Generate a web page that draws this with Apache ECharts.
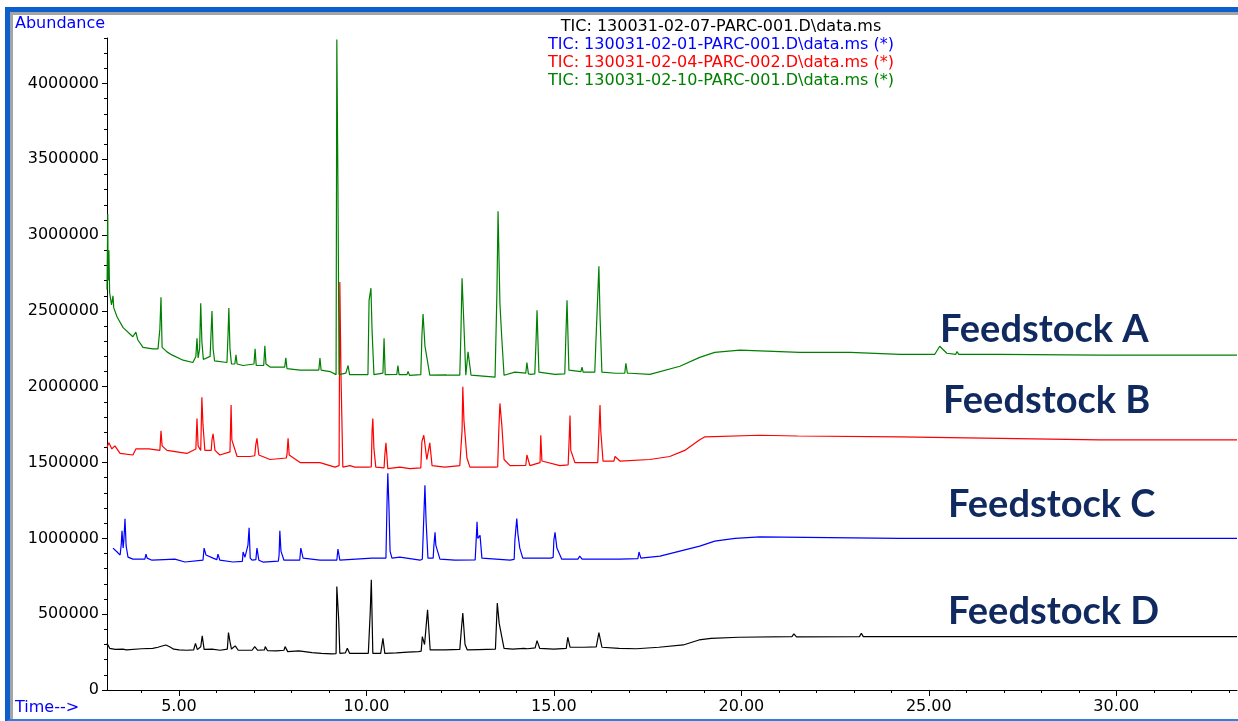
<!DOCTYPE html>
<html>
<head>
<meta charset="utf-8">
<script src="https://cdn.jsdelivr.net/npm/echarts@6/dist/echarts.min.js"></script>
<style>
html,body{margin:0;padding:0;background:#fff;width:1238px;height:721px;overflow:hidden;}
#outer{position:absolute;left:5px;top:7px;width:1300px;height:707px;border-top:5px solid #0c5fcd;border-left:5px solid #0c5fcd;border-bottom:3px solid #2f80e0;}
#inner{position:absolute;left:0;top:0;width:1300px;height:707px;border-top:3px solid #a4a4a4;border-left:3px solid #a4a4a4;box-sizing:border-box;}
#chart{position:absolute;left:0;top:0;width:1238px;height:721px;z-index:2;}
</style>
</head>
<body>
<div id="outer"><div id="inner"></div></div>
<div id="chart"></div>
<script>
// ---- tick labels ----
const xTickLabels = [5, 10, 15, 20, 25, 30];
const xMinorTicks = [4,5,6,7,8,9,10,11,12,13,14,15,16,17,18,19,20,21,22,23,24,25,26,27,28,29,30,31,32,33];
const yTickLabels = [0, 500000, 1000000, 1500000, 2000000, 2500000, 3000000, 3500000, 4000000];
const yMinorTicks = [0,100000,200000,300000,400000,500000,600000,700000,800000,900000,1000000,1100000,1200000,1300000,1400000,1500000,1600000,1700000,1800000,1900000,2000000,2100000,2200000,2300000,2400000,2500000,2600000,2700000,2800000,2900000,3000000,3100000,3200000,3300000,3400000,3500000,3600000,3700000,3800000,3900000,4000000,4100000,4200000,4300000];

// ---- series names ----
const seriesNames = [
  'TIC: 130031-02-07-PARC-001.D\\data.ms',
  'TIC: 130031-02-01-PARC-001.D\\data.ms (*)',
  'TIC: 130031-02-04-PARC-002.D\\data.ms (*)',
  'TIC: 130031-02-10-PARC-001.D\\data.ms (*)'
];
const feedstockLabels = ['Feedstock A', 'Feedstock B', 'Feedstock C', 'Feedstock D'];

// ---- data: [time (min), abundance] ----
const ticBlack = [
 [3.08,308000],[3.12,290000],[3.15,275000],[3.3,268000],[3.5,270000],[3.6,265000],[4.0,272000],[4.3,275000],[4.44,282000],[4.55,290000],[4.6,280000],[4.65,297000],[4.75,285000],[4.86,269000],
 [5.0,265000],[5.2,262000],[5.39,264000],[5.44,308000],[5.49,266000],[5.58,285000],[5.62,357000],[5.67,268000],[5.88,269000],[6.1,262000],[6.29,270000],[6.32,379000],[6.36,319000],[6.4,270000],
 [6.5,291000],[6.58,262000],[6.95,262000],[7.02,286000],[7.1,262000],[7.28,265000],[7.3,286000],[7.36,260000],[7.6,258000],[7.8,262000],[7.83,286000],[7.9,253000],
 [8.2,258000],[8.55,247000],[8.8,242000],[9.07,238000],[9.19,240000],[9.21,683000],[9.26,463000],[9.29,242000],[9.44,245000],[9.49,275000],[9.55,242000],[10.05,242000],
 [10.1,507000],[10.13,727000],[10.17,242000],[10.38,242000],[10.44,341000],[10.49,242000],[10.8,245000],[11.1,250000],[11.39,253000],[11.46,256000],[11.49,352000],[11.55,300000],[11.58,385000],[11.63,529000],
 [11.7,264000],[12.1,264000],[12.49,268000],[12.53,392000],[12.57,507000],[12.63,300000],[12.69,264000],[13.0,266000],[13.44,269000],[13.49,573000],[13.54,441000],
 [13.6,363000],[13.67,275000],[13.9,270000],[14.2,275000],[14.23,282000],[14.3,272000],[14.5,278000],[14.55,326000],[14.62,275000],[15.0,269000],[15.33,275000],[15.37,348000],
 [15.43,282000],[15.8,282000],[16.13,284000],[16.2,379000],[16.28,282000],[16.74,275000],[17.2,272000],[17.8,282000],[18.45,297000],[18.87,330000],
 [19.19,341000],[19.93,348000],[21.35,352000],[21.4,370000],[21.47,350000],[23.15,352000],[23.2,374000],[23.25,352000],[33.22,352000]
];
const ticBlue = [
 [3.24,936000],[3.35,910000],[3.43,890000],[3.46,960000],[3.48,1050000],[3.51,936000],[3.53,990000],[3.56,1130000],[3.59,950000],[3.64,876000],
 [3.77,863000],[4.09,863000],[4.12,896000],[4.15,870000],[4.28,856000],[4.6,860000],[4.89,863000],[5.16,844000],[5.64,856000],[5.67,936000],[5.72,890000],
 [5.91,870000],[6.01,860000],[6.04,896000],[6.09,856000],[6.44,844000],[6.69,848000],[6.71,910000],[6.76,876000],[6.84,956000],[6.87,1070000],[6.9,870000],[6.95,856000],[7.05,860000],[7.08,936000],
 [7.13,856000],[7.24,844000],[7.65,850000],[7.67,890000],[7.69,1050000],[7.72,916000],[7.8,856000],[8.22,856000],[8.25,936000],[8.31,870000],[8.76,856000],
 [9.21,856000],[9.24,930000],[9.29,856000],[10.15,870000],[10.52,870000],[10.55,1250000],[10.57,1430000],[10.6,1210000],[10.63,916000],[10.68,870000],
 [10.89,876000],[11.43,856000],[11.49,862000],[11.51,1000000],[11.56,1350000],[11.59,1120000],[11.64,870000],[11.72,870000],[11.78,870000],[11.8,956000],[11.83,1040000],[11.85,956000],
 [11.96,863000],[12.36,856000],[12.9,858000],[12.92,956000],[12.95,1110000],[12.97,1000000],[13.03,1020000],[13.08,870000],[13.83,856000],[13.94,862000],[13.96,990000],[14.01,1130000],
 [14.04,1030000],[14.09,936000],[14.17,870000],[14.92,870000],[14.98,875000],[15.0,990000],[15.03,1040000],[15.08,936000],[15.21,863000],[15.64,863000],[15.69,883000],
 [15.75,863000],[16.76,863000],[17.24,866000],[17.27,910000],[17.32,870000],[17.83,883000],[18.36,916000],[18.89,949000],[19.29,982000],[19.83,1000000],[20.49,1010000],
 [24.2,1000000],[33.22,1000000]
];
const ticRed = [
 [3.08,1600000],[3.13,1630000],[3.21,1590000],[3.29,1610000],[3.43,1560000],[3.77,1550000],[3.85,1590000],[4.2,1590000],[4.49,1580000],[4.52,1710000],
 [4.55,1610000],[4.68,1580000],[5.21,1560000],[5.45,1590000],[5.48,1790000],[5.51,1610000],[5.58,1580000],[5.61,1930000],[5.64,1750000],[5.69,1580000],
 [5.86,1580000],[5.88,1650000],[5.91,1690000],[5.96,1580000],[6.09,1550000],[6.36,1570000],[6.39,1880000],[6.41,1650000],[6.55,1540000],[6.89,1540000],[7.02,1545000],[7.05,1620000],
 [7.08,1660000],[7.13,1550000],[7.43,1520000],[7.86,1530000],[7.88,1550000],[7.91,1660000],[7.94,1550000],[8.23,1500000],[8.76,1500000],[9.16,1470000],[9.27,1480000],
 [9.29,2690000],[9.32,2090000],[9.37,1470000],[9.56,1480000],[9.69,1470000],[10.04,1470000],[10.13,1472000],[10.15,1710000],[10.17,1790000],[10.2,1590000],[10.25,1470000],
 [10.47,1465000],[10.49,1550000],[10.52,1630000],[10.57,1460000],[10.89,1470000],[11.16,1460000],[11.45,1465000],[11.48,1640000],[11.53,1680000],[11.61,1520000],[11.69,1630000],[11.75,1480000],
 [12.09,1470000],[12.49,1480000],[12.55,1710000],[12.57,2000000],[12.6,1780000],[12.68,1530000],[12.76,1470000],[13.43,1470000],[13.5,1472000],[13.53,1710000],[13.56,1890000],
 [13.61,1750000],[13.67,1520000],[13.83,1480000],[14.25,1482000],[14.28,1550000],[14.36,1480000],[14.63,1500000],[14.65,1680000],[14.68,1510000],[15.16,1480000],[15.38,1485000],[15.4,1610000],
 [15.43,1810000],[15.45,1580000],[15.56,1500000],[16.17,1500000],[16.23,1880000],[16.25,1710000],[16.31,1510000],[16.6,1510000],[16.63,1540000],[16.76,1510000],[17.56,1520000],
 [18.09,1540000],[18.49,1580000],[18.89,1650000],[19.03,1670000],[20.49,1680000],[21.5,1675000],[24.23,1670000],[26.9,1660000],[29.56,1650000],[33.22,1650000]
];
const ticGreen = [
 [3.08,2640000],[3.1,3140000],[3.11,2700000],[3.13,2900000],[3.15,2620000],[3.2,2540000],[3.24,2600000],[3.26,2520000],[3.35,2460000],[3.51,2390000],
 [3.77,2330000],[3.85,2360000],[3.9,2310000],[4.04,2260000],[4.3,2250000],[4.44,2250000],[4.49,2380000],[4.52,2590000],[4.55,2260000],[4.68,2230000],
 [4.81,2210000],[5.11,2175000],[5.37,2160000],[5.45,2200000],[5.48,2320000],[5.51,2190000],[5.55,2250000],[5.58,2550000],[5.61,2300000],[5.65,2180000],
 [5.83,2200000],[5.86,2380000],[5.88,2500000],[5.91,2250000],[5.95,2170000],[6.28,2160000],[6.31,2360000],[6.33,2520000],[6.36,2250000],[6.4,2150000],
 [6.49,2150000],[6.52,2210000],[6.55,2150000],[6.71,2140000],[7.0,2150000],[7.03,2250000],[7.06,2140000],[7.26,2140000],[7.29,2270000],[7.32,2150000],[7.43,2130000],
 [7.82,2130000],[7.85,2190000],[7.88,2120000],[8.23,2110000],[8.73,2110000],[8.76,2190000],[8.79,2110000],[9.03,2100000],[9.19,2080000],[9.21,4290000],
 [9.24,3300000],[9.27,2080000],[9.45,2090000],[9.51,2140000],[9.55,2080000],[10.04,2080000],[10.07,2570000],[10.12,2650000],[10.15,2370000],[10.2,2080000],
 [10.44,2090000],[10.47,2320000],[10.5,2080000],[10.81,2082000],[10.84,2140000],[10.87,2080000],[11.08,2080000],[11.11,2100000],[11.15,2075000],[11.45,2080000],[11.48,2340000],[11.51,2480000],
 [11.56,2270000],[11.61,2260000],[11.69,2076000],[12.12,2078000],[12.15,2090000],[12.18,2076000],[12.49,2076000],[12.52,2360000],[12.55,2715000],[12.6,2405000],[12.65,2076000],[12.69,2080000],[12.71,2230000],
 [12.79,2076000],[13.43,2063000],[13.48,2616000],[13.51,3157000],[13.56,2550000],[13.61,2320000],[13.67,2076000],[13.96,2096000],[14.25,2090000],[14.28,2160000],[14.32,2085000],[14.39,2082000],
 [14.49,2085000],[14.52,2274000],[14.55,2504000],[14.6,2096000],[15.03,2082000],[15.29,2085000],[15.32,2340000],[15.35,2570000],[15.4,2109000],[15.72,2100000],[15.75,2129000],[15.78,2096000],[15.96,2096000],[16.09,2096000],[16.12,2293000],
 [16.2,2794000],[16.23,2471000],[16.28,2096000],[16.65,2089000],[16.89,2090000],[16.92,2155000],[16.96,2089000],[17.03,2089000],[17.56,2082000],[18.36,2135000],[18.89,2194000],[19.29,2227000],
 [19.96,2241000],[21.56,2227000],[22.9,2227000],[24.23,2214000],[25.16,2214000],[25.29,2267000],[25.48,2221000],[25.72,2214000],[25.75,2232000],[25.8,2214000],[26.89,2214000],
 [29.56,2208000],[33.22,2208000]
];

const seriesData = [ticBlack, ticBlue, ticRed, ticGreen];
const seriesColors = ['#000000', '#0000ff', '#ff0000', '#008000'];

const FONT = '"DejaVu Sans", sans-serif';
const chart = echarts.init(document.getElementById('chart'), null, {renderer: 'canvas'});

const graphics = [
  {type:'text', x:15, y:24, style:{text:'Abundance', fill:'#0000ff', font:'16px ' + FONT, textAlign:'left', textVerticalAlign:'middle'}},
  {type:'text', x:15, y:708, style:{text:'Time-->', fill:'#0000ff', font:'16px ' + FONT, textAlign:'left', textVerticalAlign:'middle'}}
];
const legendY = [27, 45, 63, 81];
seriesNames.forEach(function (n, i) {
  graphics.push({type:'text', x:721, y:legendY[i], style:{text:n, fill:seriesColors[i], font:'16px ' + FONT, textAlign:'center', textVerticalAlign:'middle'}});
});
const fsPos = [[940, 330], [943, 401], [948, 505], [948, 612]];
feedstockLabels.forEach(function (t, i) {
  graphics.push({type:'text', x:fsPos[i][0], y:fsPos[i][1], style:{text:t, fill:'#102a5f', font:'bold 38px Lato, "Open Sans", sans-serif', textAlign:'left', textVerticalAlign:'middle'}});
});

chart.setOption({
  animation: false,
  backgroundColor: 'transparent',
  grid: {left:107, top:38, right:1, bottom:31, containLabel:false, outerBoundsMode:'none'},
  xAxis: [
    {type:'value', min:3.08, max:33.22, position:'bottom',
     axisLine:{show:true, onZero:false, lineStyle:{color:'#000', width:1}},
     axisTick:{show:true, customValues:xTickLabels, length:6, lineStyle:{color:'#000', width:1}},
     axisLabel:{show:true, customValues:xTickLabels, formatter:function(v){return v.toFixed(2);}, color:'#000', fontFamily:FONT, fontSize:16, margin:9},
     splitLine:{show:false}},
    {type:'value', min:3.08, max:33.22, position:'bottom',
     axisLine:{show:false},
     axisTick:{show:true, customValues:xMinorTicks, length:3, lineStyle:{color:'#000', width:1}},
     axisLabel:{show:false}, splitLine:{show:false}}
  ],
  yAxis: [
    {type:'value', min:0, max:4300000, position:'left',
     axisLine:{show:true, onZero:false, lineStyle:{color:'#000', width:1}},
     axisTick:{show:true, customValues:yTickLabels, length:5, lineStyle:{color:'#000', width:1}},
     axisLabel:{show:true, customValues:yTickLabels, formatter:function(v){return String(v);}, color:'#000', fontFamily:FONT, fontSize:16, margin:8},
     splitLine:{show:false}},
    {type:'value', min:0, max:4300000, position:'left',
     axisLine:{show:false},
     axisTick:{show:true, customValues:yMinorTicks, length:3, lineStyle:{color:'#000', width:1}},
     axisLabel:{show:false}, splitLine:{show:false}}
  ],
  series: seriesData.map(function (d, i) {
    return {type:'line', name:seriesNames[i], data:d, xAxisIndex:0, yAxisIndex:0, showSymbol:false, symbol:'none',
            lineStyle:{color:seriesColors[i], width:1.2}, itemStyle:{color:seriesColors[i]}, z:2 + i, silent:true};
  }),
  graphic: graphics
});
</script>
</body>
</html>
